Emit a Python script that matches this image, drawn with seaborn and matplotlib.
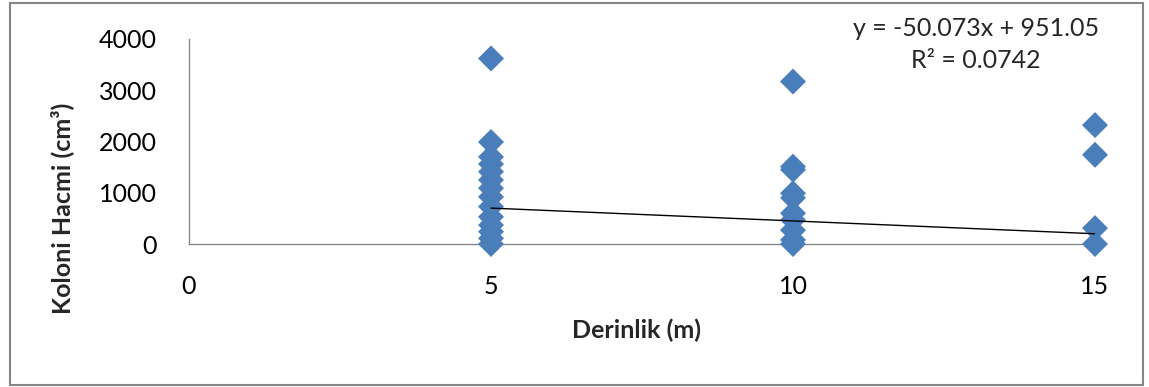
import matplotlib
matplotlib.use("Agg")
import matplotlib.pyplot as plt
from matplotlib.patches import Rectangle
import numpy as np
import pandas as pd
import seaborn as sns

# Colony volumes (cm³) measured at each depth (m)
vol_5m = [3620, 1990, 1700, 1560, 1410, 1250, 1090, 920, 730, 530, 370, 240, 110, 0]
vol_10m = [3170, 1510, 1450, 990, 900, 600, 470, 270, 80, 0]
vol_15m = [2320, 1740, 310, 0]
depths = [5, 10, 15]

# Linear trend reported for the data
slope = -50.073
intercept = 951.05
r_squared = 0.0742

x_ticks = [0, 5, 10, 15]
y_ticks = [0, 1000, 2000, 3000, 4000]

df = pd.DataFrame({
    "Derinlik": [depths[0]] * len(vol_5m) + [depths[1]] * len(vol_10m) + [depths[2]] * len(vol_15m),
    "Hacim": vol_5m + vol_10m + vol_15m,
})

sns.set_theme(style="white")
plt.rcParams["font.family"] = ["Lato", "DejaVu Sans"]

W, H = 1149, 387
fig = plt.figure(figsize=(W / 100, H / 100), dpi=100)
ax = fig.add_axes([189 / W, 1 - 244 / H, (1095 - 189) / W, (244 - 39) / H])

sns.scatterplot(data=df, x="Derinlik", y="Hacim", marker="D", s=175,
                color="#4A7EBB", edgecolor="none", ax=ax, clip_on=False, zorder=3)

# Trend line over the depth range
xs = np.array([min(depths), max(depths)])
ax.plot(xs, slope * xs + intercept, color="black", lw=1.0, zorder=4)

ax.set_xlim(0, 15)
ax.set_ylim(0, 4000)
ax.set_xticks(x_ticks)
ax.set_yticks(y_ticks)
ax.tick_params(axis="both", length=0, labelsize=18, colors="black")
ax.tick_params(axis="x", pad=22)
ax.tick_params(axis="y", pad=23)

for side in ["top", "right"]:
    ax.spines[side].set_visible(False)
for side in ["left", "bottom"]:
    ax.spines[side].set_color("#868686")
    ax.spines[side].set_linewidth(1.0)

ax.set_xlabel("")
ax.set_ylabel("")
fig.text(637 / W, 1 - 330 / H, "Derinlik (m)", fontsize=18, fontweight="bold",
         ha="center", va="center")
fig.text(62 / W, 1 - 208 / H, "Koloni Hacmi (cm³)", fontsize=18, fontweight="bold",
         rotation=90, ha="center", va="center")

fig.text(976 / W, 1 - 28 / H, f"y = {slope}x + {intercept:.2f}",
         fontsize=18, ha="center", va="center")
fig.text(976 / W, 1 - 60 / H, f"R² = {r_squared}",
         fontsize=18, ha="center", va="center")

# Outer chart frame
fig.add_artist(Rectangle((10 / W, 2 / H), 1133 / W, 382 / H,
                         transform=fig.transFigure, fill=False,
                         edgecolor="#868686", lw=1.5))

fig.savefig("out.png", dpi=100)
